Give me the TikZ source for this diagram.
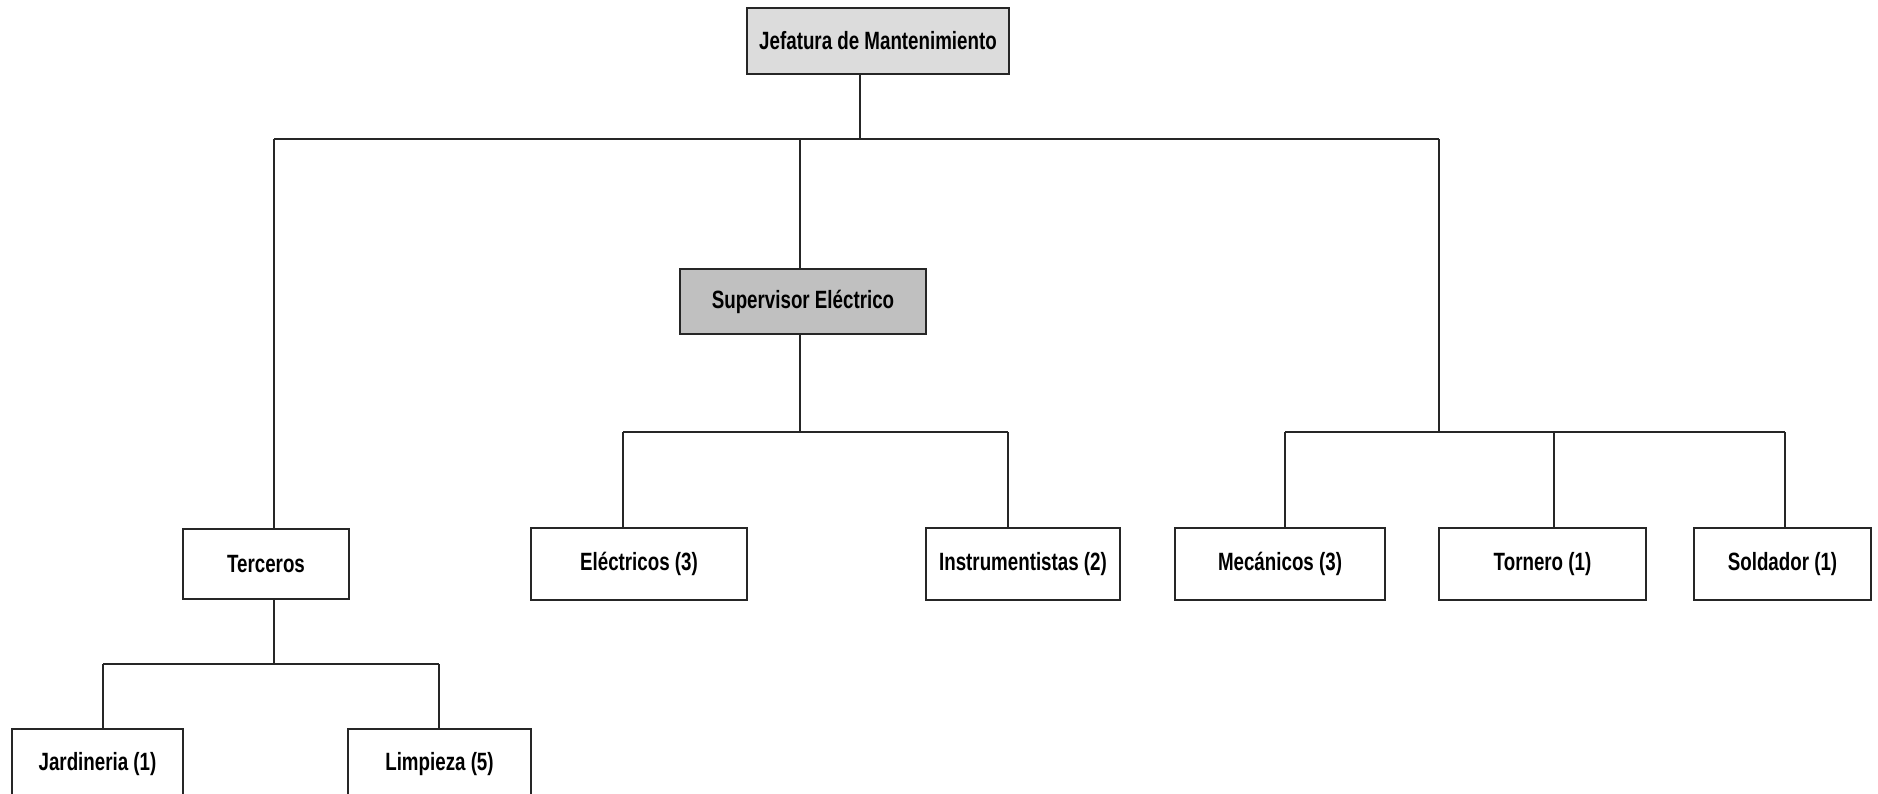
\documentclass[tikz,border=0pt]{standalone}
\usepackage{fontspec}
\setmainfont[FakeStretch=0.75]{Liberation Sans}
\definecolor{headfill}{HTML}{DCDCDC}
\definecolor{supfill}{HTML}{C0C0C0}
\begin{document}
\begin{tikzpicture}[x=1pt,y=-1pt,
  box/.style={draw=black!85, line width=1.8pt, rectangle, inner sep=0pt,
    minimum height=70pt, fill=white,
    font=\fontsize{25}{29}\selectfont\bfseries},
  link/.style={draw=black!85, line width=1.8pt}]
\useasboundingbox (0,0) rectangle (1878,794);

% boxes
\node[box, fill=headfill, minimum width=262pt, minimum height=66pt] (jefe) at (878,41) {Jefatura de Mantenimiento};
\node[box, fill=supfill, minimum width=246pt, minimum height=65pt] (sup) at (803,301.5) {Supervisor Eléctrico};
\node[box, minimum width=166pt] (ter) at (266,564) {Terceros};
\node[box, minimum width=171pt] (jar) at (97.5,764) {Jardineria (1)};
\node[box, minimum width=183pt] (lim) at (439.5,764) {Limpieza (5)};
\node[box, minimum width=216pt, minimum height=72pt] (ele) at (639,564) {Eléctricos (3)};
\node[box, minimum width=194pt, minimum height=72pt] (ins) at (1023,564) {Instrumentistas (2)};
\node[box, minimum width=210pt, minimum height=72pt] (mec) at (1280,564) {Mecánicos (3)};
\node[box, minimum width=207pt, minimum height=72pt] (tor) at (1542.5,564) {Tornero (1)};
\node[box, minimum width=177pt, minimum height=72pt] (sol) at (1782.5,564) {Soldador (1)};

% junction points of the connector buses
\coordinate (jdrop) at (860,139);
\coordinate (lb) at (274,139);
\coordinate (rb) at (1439,139);
\coordinate (sb) at (800,139);
\coordinate (sbus) at (800,432);
\coordinate (sl) at (623,432);
\coordinate (sr) at (1008,432);
\coordinate (mbus) at (1439,432);
\coordinate (ml) at (1285,432);
\coordinate (mt) at (1554,432);
\coordinate (mr) at (1785,432);
\coordinate (tbus) at (274,664);
\coordinate (tl) at (103,664);
\coordinate (tr) at (439,664);

% top level
\draw[link] (jefe.south -| jdrop) -- (jdrop);
\draw[link] (lb) -- (rb);
\draw[link] (lb) -- (ter.north -| lb);
\draw[link] (sb) -- (sup.north -| sb);
\draw[link] (rb) -- (mbus);

% supervisor branch
\draw[link] (sup.south -| sbus) -- (sbus);
\draw[link] (sl) -- (sr);
\draw[link] (sl) -- (ele.north -| sl);
\draw[link] (sr) -- (ins.north -| sr);

% mechanical branch
\draw[link] (ml) -- (mr);
\draw[link] (ml) -- (mec.north -| ml);
\draw[link] (mt) -- (tor.north -| mt);
\draw[link] (mr) -- (sol.north -| mr);

% contractors branch
\draw[link] (ter.south -| tbus) -- (tbus);
\draw[link] (tl) -- (tr);
\draw[link] (tl) -- (jar.north -| tl);
\draw[link] (tr) -- (lim.north -| tr);
\end{tikzpicture}
\end{document}
